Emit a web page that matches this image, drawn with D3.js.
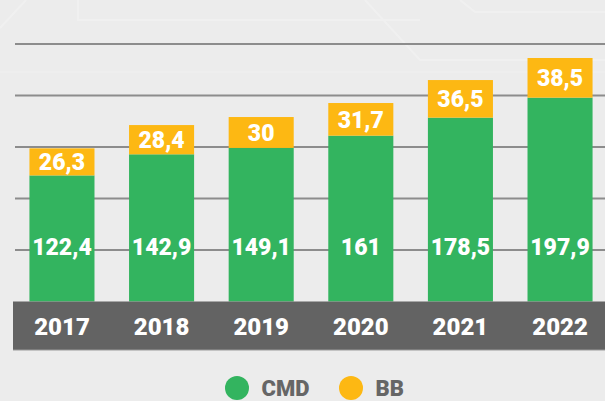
<!DOCTYPE html>
<html>
<head>
<meta charset="utf-8">
<script src="https://cdn.jsdelivr.net/npm/d3@7"></script>
<style>
html,body{margin:0;padding:0;background:#ececec;}
svg{display:block;}
</style>
</head>
<body>
<svg id="chart" width="605" height="401"></svg>
<script>
const years = ["2017","2018","2019","2020","2021","2022"];
const cmd = [122.4, 142.9, 149.1, 161, 178.5, 197.9];
const bb = [26.3, 28.4, 30, 31.7, 36.5, 38.5];
const cmdLabels = ["122,4","142,9","149,1","161","178,5","197,9"];
const bbLabels = ["26,3","28,4","30","31,7","36,5","38,5"];
const gridTicks = [50, 100, 150, 200, 250];
const seriesNames = ["CMD","BB"];
const colors = {CMD:"#33b45f", BB:"#fdb813"};

const W = 605, H = 401;
const svg = d3.select("#chart");
const font = "Roboto, 'DejaVu Sans', sans-serif";

// background
svg.append("rect").attr("width",W).attr("height",H).attr("fill","#ececec");
const deco = svg.append("g").attr("stroke","#f3f3f3").attr("stroke-width",2).attr("fill","none").attr("opacity",0.7);
deco.append("path").attr("d","M0,28 L26,0");
deco.append("path").attr("d","M78,0 L78,20 L420,20");
deco.append("path").attr("d","M365,0 L420,60 L605,60");
deco.append("path").attr("d","M460,0 L475,12 L605,12");
deco.append("path").attr("d","M0,72 L605,72").attr("opacity",0.5);

const baseY = 301.5;
const y = d3.scaleLinear().domain([0, 250]).range([baseY, 44]);
const x = d3.scaleBand().domain(years).range([13, 609]).paddingInner(0.347).paddingOuter(0.165);

// grid
svg.append("g").selectAll("line").data(gridTicks).join("line")
  .attr("x1",15).attr("x2",W)
  .attr("y1",d=>y(d)).attr("y2",d=>y(d))
  .attr("stroke","#8c8c8c").attr("stroke-width",2);

const data = years.map((yr,i)=>({year:yr, CMD:cmd[i], BB:bb[i], cl:cmdLabels[i], bl:bbLabels[i]}));
const stack = d3.stack().keys(seriesNames)(data);

svg.append("g").selectAll("g").data(stack).join("g")
  .attr("fill",d=>colors[d.key])
  .selectAll("rect").data(d=>d).join("rect")
  .attr("x",d=>x(d.data.year))
  .attr("width",x.bandwidth())
  .attr("y",d=>y(d[1]))
  .attr("height",d=>y(d[0])-y(d[1]));

// labels in green bars (fixed height above baseline)
svg.append("g").selectAll("text").data(data).join("text")
  .attr("x",d=>x(d.year)+x.bandwidth()/2)
  .attr("y",baseY-55)
  .attr("dy","0.36em")
  .attr("text-anchor","middle")
  .attr("fill","#fff").attr("font-family",font).attr("font-weight",900)
  .attr("font-size",23)
  .text(d=>d.cl);

// labels in yellow segments
svg.append("g").selectAll("text").data(stack[1]).join("text")
  .attr("x",d=>x(d.data.year)+x.bandwidth()/2)
  .attr("y",d=>(y(d[0])+y(d[1]))/2)
  .attr("dy","0.36em")
  .attr("text-anchor","middle")
  .attr("fill","#fff").attr("font-family",font).attr("font-weight",900)
  .attr("font-size",23)
  .text(d=>d.data.bl);

// axis band
svg.append("rect").attr("x",13).attr("y",baseY).attr("width",W-13).attr("height",48.5).attr("fill","#636363");
svg.append("line").attr("x1",13).attr("x2",W).attr("y1",baseY+48.5).attr("y2",baseY+48.5).attr("stroke","#9a9a9a").attr("stroke-width",1);
const xAxis = d3.axisBottom(x).tickSize(0).tickPadding(0);
const ax = svg.append("g").attr("transform",`translate(0,${baseY})`).call(xAxis);
ax.select(".domain").remove();
ax.selectAll("text")
  .attr("y",25).attr("dy","0.36em")
  .attr("fill","#fff").attr("font-family",font).attr("font-weight",900).attr("font-size",24);

// legend
const legX = [237, 351];
const lg = svg.append("g").selectAll("g").data(seriesNames).join("g")
  .attr("transform",(d,i)=>`translate(${legX[i]},388)`);
lg.append("circle").attr("r",12).attr("fill",d=>colors[d]);
lg.append("text").attr("x",24.5).attr("y",0).attr("dy","0.36em")
  .attr("fill","#666").attr("font-family",font).attr("font-weight",900).attr("font-size",22)
  .text(d=>d);
</script>
</body>
</html>
